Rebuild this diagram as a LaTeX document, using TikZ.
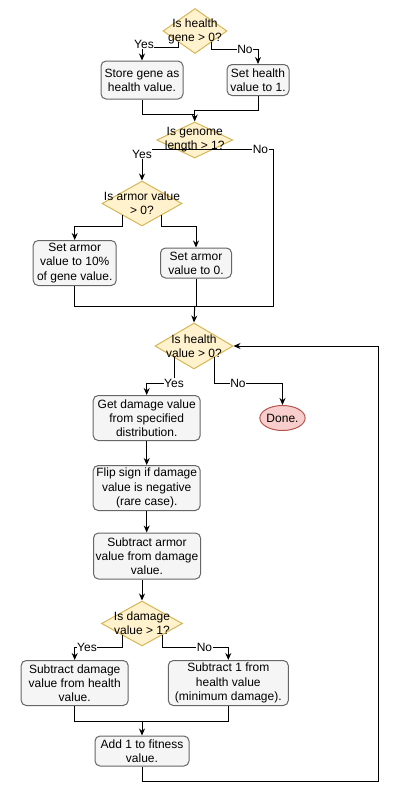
\documentclass[tikz,border=0pt]{standalone}
\usepackage{fontspec}
\setmainfont{Liberation Sans}
\usetikzlibrary{arrows.meta,calc,shapes.geometric}
\definecolor{decfill}{HTML}{FFF2CC}
\definecolor{decline}{HTML}{D6B656}
\definecolor{boxfill}{HTML}{F5F5F5}
\definecolor{boxline}{HTML}{666666}
\definecolor{endfill}{HTML}{F8CECC}
\definecolor{endline}{HTML}{B85450}
\begin{document}
\begin{tikzpicture}[x=1pt,y=-1pt,line width=1pt,
                font=\fontsize{12}{14.2}\selectfont,
                box/.style={rectangle,rounded corners=5pt,draw=boxline,fill=boxfill,align=center,inner sep=1pt},
                dec/.style={diamond,draw=decline,fill=decfill,inner sep=0pt},
                stop/.style={ellipse,draw=endline,fill=endfill,inner sep=0pt},
                lbl/.style={fill=white,inner sep=0.5pt},
                arr/.style={-{Stealth[length=7pt,width=6pt]}}]
                \useasboundingbox (0,0) rectangle (400,790);
                %NODE
                \node[dec,minimum width=64pt,minimum height=45pt,label={[align=center]center:{Is health\\gene > 0?}}] (D1) at (195,31){};
                \node[box,minimum width=82pt,minimum height=38pt] (B1) at (142,80){Store gene as\\health value.};
                \node[box,minimum width=62pt,minimum height=31pt] (B2) at (258,80){Set health\\value to 1.};
                \node[dec,minimum width=76pt,minimum height=36pt,label={[align=center]center:{Is genome\\length > 1?}}] (D2) at (194.7,140){};
                \node[dec,minimum width=80pt,minimum height=45pt,label={[align=center]center:{Is armor value\\> 0?}}] (D3) at (142,203.5){};
                \node[box,minimum width=83pt,minimum height=45pt] (B3) at (74.7,263){Set armor\\value to 10\%\\of gene value.};
                \node[box,minimum width=71pt,minimum height=30pt] (B4) at (196,263){Set armor\\value to 0.};
                \node[dec,minimum width=78pt,minimum height=46pt,label={[align=center]center:{Is health\\value > 0?}}] (D4) at (194,346){};
                \node[box,minimum width=107pt,minimum height=45pt] (B5) at (146.7,418){Get damage value\\from specified\\distribution.};
                \node[stop,minimum width=45pt,minimum height=25pt] (E1) at (282.5,418){Done.};
                \node[box,minimum width=107pt,minimum height=45pt] (B6) at (146.7,488){Flip sign if damage\\value is negative\\(rare case).};
                \node[box,minimum width=107pt,minimum height=46pt] (B7) at (147,556){Subtract armor\\value from damage\\value.};
                \node[dec,minimum width=81pt,minimum height=45pt,label={[align=center]center:{Is damage\\value > 1?}}] (D5) at (142,623.5){};
                \node[box,minimum width=107pt,minimum height=45pt] (B8) at (74.7,683){Subtract damage\\value from health\\value.};
                \node[box,minimum width=120pt,minimum height=45pt] (B9) at (228.3,683){Subtract 1 from\\health value\\(minimum damage).};
                \node[box,minimum width=94pt,minimum height=30pt] (B10) at (142,751){Add 1 to fitness\\value.};
                \coordinate (m1) at (194.7,114);
                \coordinate (m3) at (194.7,306);
                \coordinate (r1) at (273,306);
                \coordinate (m5) at (142,721);
                \coordinate (r2) at (378,781);
                
                %EDGE
                \draw[arr] ($(D1)+(-16.5,11)$) -- ++(0,5) -| (B1.north) node[lbl,pos=.5,xshift=2pt,yshift=3pt]{Yes};
                \draw[arr] ($(D1)+(16.5,11)$) -- ++(0,7) -| (B2.north) node[lbl,pos=.36]{No};
                \draw (B1.south) |- (m1);
                \draw[arr] (B2.south) -- ++(0,14) -| (D2.north);
                \draw[arr] ($(D2)+(0,9)$) -| (D3.north) node[lbl,pos=.5,yshift=-5pt]{Yes};
                \draw ($(D2)+(0,9)$) -| (r1) node[lbl,pos=.42]{No} -- (m3);
                \draw[arr] ($(D3)+(-19.5,11.5)$) -- ++(0,11) -| (B3.north);
                \draw[arr] ($(D3)+(19.5,11.5)$) -- ++(0,11) -| (B4.north);
                \draw (B3.south) |- (m3);
                \draw (B4.south) |- (m3);
                \draw[arr] (m3) -- (D4.north);
                \draw[arr] ($(D4)+(-20,11)$) -- ++(0,26) node[lbl,pos=1]{Yes} -| (B5.north);
                \draw[arr] ($(D4)+(20,11)$) -- ++(0,26) -| (E1.north) node[lbl,pos=.175]{No};
                \draw[arr] (B5) -- (B6);
                \draw[arr] (B6) -- (B6 |- B7.north);
                \draw[arr] (B7.south -| D5.north) -- (D5.north);
                \draw[arr] ($(D5)+(-20,11.5)$) -- ++(0,12) -| (B8.north) node[lbl,pos=.37]{Yes};
                \draw[arr] ($(D5)+(20,11.5)$) -- ++(0,12) -| (B9.north) node[lbl,pos=.32]{No};
                \draw (B8.south) |- (m5);
                \draw (B9.south) |- (m5);
                \draw[arr] (m5) -- (B10.north);
                \draw[arr] (B10.south) |- (r2) |- (D4.east);
            \end{tikzpicture}
\end{document}
